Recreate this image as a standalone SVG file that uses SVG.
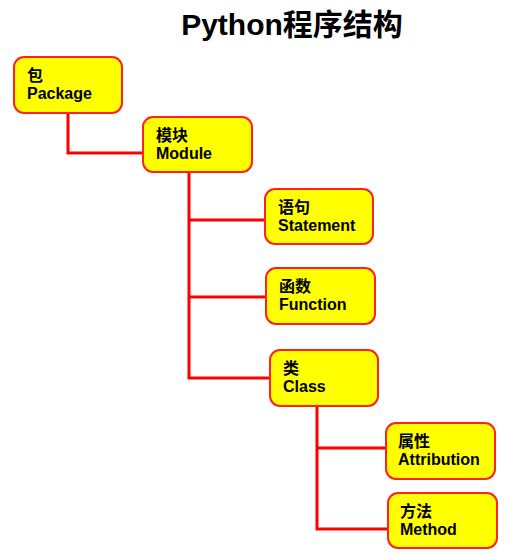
<svg xmlns="http://www.w3.org/2000/svg" width="520" height="557" viewBox="0 0 520 557">
<style>
.box{fill:#FFFF00;stroke:#FF2020;stroke-width:2}
.t{font-family:"Liberation Sans","Noto Sans CJK SC",sans-serif;font-weight:bold;font-size:16px;fill:#000}
.title{font-family:"Liberation Sans","Noto Sans CJK SC",sans-serif;font-weight:bold;font-size:30px;fill:#000}
.c{fill:none;stroke:#FF0000;stroke-width:3}
</style>
<rect width="520" height="557" fill="#fff"/>
<text class="title" x="292" y="35" text-anchor="middle">Python程序结构</text>
<g id="connectors">
<path class="c" d="M68,113 V153 H143"/>
<path class="c" d="M189,172 V378 H270"/>
<path class="c" d="M189,220 H265"/>
<path class="c" d="M189,297 H266"/>
<path class="c" d="M317,406 V529 H388"/>
<path class="c" d="M317,448 H386"/>
</g>
<g id="package"><rect class="box" x="14" y="57" width="108" height="56" rx="10"/><text class="t" x="27" y="81">包</text><text class="t" x="27" y="99">Package</text></g>
<g id="module"><rect class="box" x="143" y="117" width="109" height="55" rx="10"/><text class="t" x="156" y="141">模块</text><text class="t" x="156" y="159">Module</text></g>
<g id="statement"><rect class="box" x="265" y="189" width="108" height="55" rx="10"/><text class="t" x="278" y="213">语句</text><text class="t" x="278" y="231">Statement</text></g>
<g id="function"><rect class="box" x="266" y="268" width="109" height="56" rx="10"/><text class="t" x="279" y="292">函数</text><text class="t" x="279" y="310">Function</text></g>
<g id="class"><rect class="box" x="270" y="350" width="108" height="56" rx="10"/><text class="t" x="283" y="374">类</text><text class="t" x="283" y="392">Class</text></g>
<g id="attribution"><rect class="box" x="386" y="423" width="109" height="56" rx="10"/><text class="t" x="398" y="447">属性</text><text class="t" x="398" y="465">Attribution</text></g>
<g id="method"><rect class="box" x="388" y="493" width="109" height="55" rx="10"/><text class="t" x="400" y="517">方法</text><text class="t" x="400" y="535">Method</text></g>
</svg>
